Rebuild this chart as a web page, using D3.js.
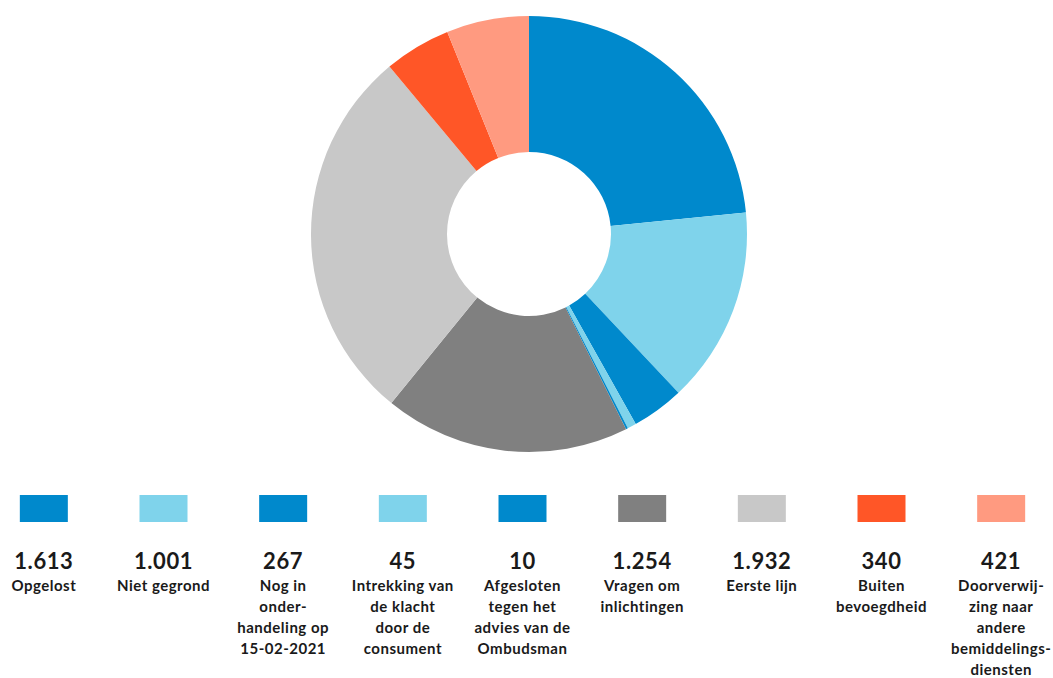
<!DOCTYPE html>
<html>
<head>
<meta charset="utf-8">
<script src="https://cdn.jsdelivr.net/npm/d3@7"></script>
<style>
  html, body { margin: 0; padding: 0; background: #fff; }
  svg { display: block; font-family: Lato, "Open Sans", sans-serif; }
</style>
</head>
<body>
<svg id="chart" width="1053" height="678"></svg>
<script>
// Afgehandelde dossiers per uitkomst
const categories = [
  "Opgelost",
  "Niet gegrond",
  "Nog in onder-handeling op 15-02-2021",
  "Intrekking van de klacht door de consument",
  "Afgesloten tegen het advies van de Ombudsman",
  "Vragen om inlichtingen",
  "Eerste lijn",
  "Buiten bevoegdheid",
  "Doorverwijzing naar andere bemiddelingsdiensten"
];
const labelLines = [
  ["Opgelost"],
  ["Niet gegrond"],
  ["Nog in", "onder-", "handeling op", "15-02-2021"],
  ["Intrekking van", "de klacht", "door de", "consument"],
  ["Afgesloten", "tegen het", "advies van de", "Ombudsman"],
  ["Vragen om", "inlichtingen"],
  ["Eerste lijn"],
  ["Buiten", "bevoegdheid"],
  ["Doorverwij-", "zing naar", "andere", "bemiddelings-", "diensten"]
];
const values = [1613, 1001, 267, 45, 10, 1254, 1932, 340, 421];
const colors = ["#0089CC", "#7FD3EB", "#0089CC", "#7FD3EB", "#0089CC", "#808080", "#C8C8C8", "#FF5627", "#FF9A80"];

const svg = d3.select("#chart");
const fmt = d3.formatLocale({ decimal: ",", thousands: ".", grouping: [3], currency: ["€", ""] }).format(",d");

const data = categories.map((c, i) => ({ name: c, value: values[i], color: colors[i], lines: labelLines[i] }));

// Donut
const cx = 529, cy = 234, rOuter = 218, rInner = 82;
const pie = d3.pie().value(d => d.value).sort(null);
const arc = d3.arc().innerRadius(rInner).outerRadius(rOuter);

svg.append("g")
  .attr("transform", `translate(${cx},${cy})`)
  .selectAll("path")
  .data(pie(data))
  .join("path")
  .attr("d", arc)
  .attr("fill", d => d.data.color);

// Legend: one column per category
const x = d3.scaleBand()
  .domain(d3.range(data.length))
  .range([-16, 1061])
  .paddingInner(0);

const col = svg.append("g")
  .selectAll("g")
  .data(data)
  .join("g")
  .attr("transform", (d, i) => `translate(${x(i) + x.bandwidth() / 2},0)`);

col.append("rect")
  .attr("x", -24).attr("y", 495)
  .attr("width", 48).attr("height", 27)
  .attr("fill", d => d.color);

col.append("text")
  .attr("y", 569)
  .attr("text-anchor", "middle")
  .attr("font-size", 22)
  .attr("font-weight", 700)
  .attr("letter-spacing", 0.6)
  .attr("fill", "#1a1a1a")
  .text(d => fmt(d.value));

col.append("text")
  .attr("text-anchor", "middle")
  .attr("font-size", 15)
  .attr("font-weight", 700)
  .attr("letter-spacing", 0.5)
  .attr("fill", "#1a1a1a")
  .selectAll("tspan")
  .data(d => d.lines)
  .join("tspan")
  .attr("x", 0)
  .attr("y", (d, i) => 591 + i * 21)
  .text(d => d);
</script>
</body>
</html>
